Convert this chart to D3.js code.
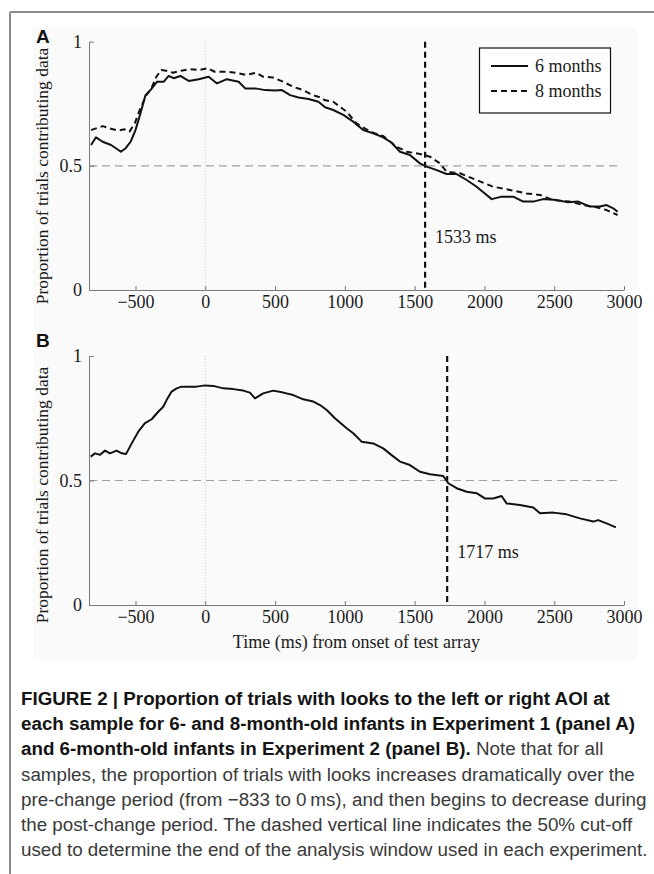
<!DOCTYPE html>
<html><head><meta charset="utf-8">
<script src="https://cdn.jsdelivr.net/npm/d3@7"></script>
<style>body{margin:0;background:#fff}svg{display:block}</style>
</head><body><svg id="c" width="654" height="874"></svg>
<script>
// ---------- DATA ----------
const timesA6 = [-818,-783,-735,-675,-640,-605,-570,-535,-500,-464,-428,-393,-345,-297,-262,-226,-178,-119,-47,24,84,155,239,286,358,430,501,549,608,668,740,811,859,917,989,1060,1132,1203,1275,1335,1395,1466,1538,1586,1658,1729,1801,1873,1944,2003,2052,2123,2206,2278,2350,2421,2517,2600,2672,2756,2827,2875,2923,2954];
const valuesA6 = [0.584,0.615,0.597,0.584,0.571,0.557,0.571,0.597,0.644,0.712,0.785,0.805,0.839,0.839,0.862,0.853,0.862,0.842,0.849,0.859,0.832,0.849,0.839,0.812,0.812,0.805,0.803,0.805,0.785,0.775,0.769,0.758,0.736,0.725,0.705,0.678,0.644,0.631,0.615,0.593,0.557,0.544,0.510,0.497,0.483,0.467,0.467,0.443,0.416,0.389,0.366,0.376,0.376,0.356,0.356,0.366,0.362,0.353,0.356,0.336,0.336,0.342,0.329,0.315];
const timesA8 = [-818,-783,-735,-685,-625,-578,-543,-505,-470,-422,-386,-350,-315,-279,-231,-172,-112,-41,19,67,150,222,293,365,413,484,556,628,700,771,822,855,917,1013,1084,1180,1275,1371,1443,1538,1610,1681,1729,1825,1944,2063,2183,2302,2398,2493,2613,2708,2804,2875,2954];
const valuesA8 = [0.644,0.651,0.660,0.651,0.642,0.647,0.638,0.671,0.725,0.785,0.812,0.859,0.886,0.883,0.875,0.883,0.889,0.886,0.893,0.879,0.879,0.875,0.866,0.875,0.859,0.856,0.839,0.819,0.805,0.785,0.776,0.765,0.758,0.718,0.671,0.638,0.620,0.577,0.557,0.548,0.537,0.510,0.476,0.470,0.443,0.416,0.403,0.389,0.383,0.362,0.356,0.342,0.333,0.322,0.302];
const timesB6 = [-821,-790,-754,-718,-683,-635,-599,-568,-527,-480,-432,-384,-337,-301,-277,-241,-205,-169,-110,-62,-2,57,129,200,272,320,356,415,487,559,630,702,774,822,870,929,1013,1060,1120,1203,1275,1335,1395,1466,1538,1610,1705,1741,1801,1873,1944,2003,2063,2123,2159,2254,2350,2398,2493,2589,2684,2780,2815,2875,2942];
const valuesB6 = [0.596,0.609,0.603,0.620,0.609,0.620,0.609,0.606,0.649,0.696,0.730,0.746,0.776,0.796,0.823,0.857,0.870,0.877,0.877,0.877,0.882,0.880,0.870,0.867,0.861,0.853,0.830,0.850,0.861,0.853,0.843,0.826,0.817,0.803,0.783,0.750,0.710,0.690,0.656,0.649,0.629,0.602,0.576,0.562,0.535,0.525,0.518,0.489,0.469,0.455,0.449,0.428,0.428,0.438,0.408,0.402,0.392,0.368,0.371,0.364,0.348,0.335,0.341,0.328,0.312];
const xTicks = [-500, 0, 500, 1000, 1500, 2000, 2500, 3000];
const yTicks = [0, 0.5, 1];
const yTickLabels = ["0", "0.5", "1"];
const cutoffTimes = [1575, 1733];          // position of dashed cut-off line as drawn
const cutoffLabels = ["1533 ms", "1717 ms"];
const legendLabels = ["6 months", "8 months"];
const panelLetters = ["A", "B"];
const yAxisTitle = "Proportion of trials contributing data";
const xAxisTitle = "Time (ms) from onset of test array";
const captionLines = [
  [["FIGURE 2 | Proportion of trials with looks to the left or right AOI at", true]],
  [["each sample for 6- and 8-month-old infants in Experiment 1 (panel A)", true]],
  [["and 6-month-old infants in Experiment 2 (panel B).", true], [" Note that for all", false]],
  [["samples, the proportion of trials with looks increases dramatically over the", false]],
  [["pre-change period (from \u2212833 to 0\u2009ms), and then begins to decrease during", false]],
  [["the post-change period. The dashed vertical line indicates the 50% cut-off", false]],
  [["used to determine the end of the analysis window used in each experiment.", false]]
];

// ---------- DRAW ----------
const svg = d3.select("#c");
const serif = "'Liberation Serif','Times New Roman',serif";
const sans = "'Liberation Sans',Arial,Helvetica,sans-serif";

// frame
svg.append("line").attr("x1",10).attr("x2",654).attr("y1",12).attr("y2",12).attr("stroke","#8c8c8c").attr("stroke-width",2);
svg.append("line").attr("x1",10).attr("x2",10).attr("y1",12).attr("y2",874).attr("stroke","#8c8c8c").attr("stroke-width",2);
// image background
svg.append("rect").attr("x",33).attr("y",28).attr("width",604).attr("height",632).attr("fill","#fafafa");

const x = d3.scaleLinear().domain([-833, 3000]).range([89, 624]);

const panels = [
  {top: 41.7, bottom: 290, series: [[timesA6, valuesA6, null], [timesA8, valuesA8, "6,4"]], letterY: 43, titleY: 176},
  {top: 356, bottom: 605, series: [[timesB6, valuesB6, null]], letterY: 347, titleY: 495}
];

panels.forEach((p, i) => {
  const y = d3.scaleLinear().domain([0, 1]).range([p.bottom, p.top]);
  const g = svg.append("g");

  // reference lines
  g.append("line").attr("x1", x(0)).attr("x2", x(0)).attr("y1", y(1)).attr("y2", y(0))
    .attr("stroke", "#c4c4c4").attr("stroke-width", 1).attr("stroke-dasharray", "1,2");
  g.append("line").attr("x1", x(-833)).attr("x2", x(2960)).attr("y1", y(0.5)).attr("y2", y(0.5))
    .attr("stroke", "#a0a0a0").attr("stroke-width", 1.2).attr("stroke-dasharray", "8,5");

  // axes
  const xa = g.append("g").attr("transform", `translate(0,${p.bottom})`)
    .call(d3.axisBottom(x).tickValues(xTicks).tickSizeInner(-4).tickSizeOuter(0).tickPadding(5)
      .tickFormat(d => d < 0 ? "\u2212" + Math.abs(d) : String(d)));
  const ya = g.append("g").attr("transform", `translate(89,0)`)
    .call(d3.axisLeft(y).tickValues(yTicks).tickSizeInner(-5).tickSizeOuter(0).tickPadding(7)
      .tickFormat((d, k) => yTickLabels[k]));
  [xa, ya].forEach(a => {
    a.selectAll("path.domain").attr("stroke", "#7a7a7a").attr("stroke-width", 1);
    a.selectAll(".tick line").attr("stroke", "#7a7a7a");
    a.selectAll("text").attr("font-family", serif).attr("font-size", 18).attr("fill", "#1a1a1a");
  });

  // series
  p.series.forEach(([ts, vs, dash]) => {
    const pts = ts.map((t, k) => [t, vs[k]]);
    g.append("path").datum(pts)
      .attr("d", d3.line().x(d => x(d[0])).y(d => y(d[1])))
      .attr("fill", "none").attr("stroke", "#111").attr("stroke-width", 2)
      .attr("stroke-linejoin", "round")
      .attr("stroke-dasharray", dash);
  });

  // cut-off line
  g.append("line").attr("x1", x(cutoffTimes[i])).attr("x2", x(cutoffTimes[i]))
    .attr("y1", y(1)).attr("y2", y(0))
    .attr("stroke", "#111").attr("stroke-width", 2.2).attr("stroke-dasharray", "6,4");
  g.append("text").attr("x", x(cutoffTimes[i]) + 10).attr("y", y(0.19))
    .attr("font-family", serif).attr("font-size", 18).attr("fill", "#1a1a1a").text(cutoffLabels[i]);

  // panel letter
  g.append("text").attr("x", 36).attr("y", p.letterY).attr("font-family", sans).attr("font-weight", "bold")
    .attr("font-size", 19).attr("fill", "#111").text(panelLetters[i]);

  // y-axis title
  g.append("text").attr("transform", `translate(48,${p.titleY}) rotate(-90)`).attr("text-anchor", "middle")
    .attr("font-family", serif).attr("font-size", 17.5).attr("fill", "#1a1a1a").text(yAxisTitle);
});

// legend
const lg = svg.append("g");
lg.append("rect").attr("x", 479.5).attr("y", 48).attr("width", 131).attr("height", 65)
  .attr("fill", "#fff").attr("stroke", "#111").attr("stroke-width", 1.2);
legendLabels.forEach((lab, k) => {
  const ly = 66 + k * 25;
  lg.append("line").attr("x1", 491).attr("x2", 528).attr("y1", ly).attr("y2", ly)
    .attr("stroke", "#111").attr("stroke-width", 2.2).attr("stroke-dasharray", k === 1 ? "6,4" : null);
  lg.append("text").attr("x", 535).attr("y", ly + 6).attr("font-family", serif).attr("font-size", 18)
    .attr("fill", "#1a1a1a").text(lab);
});

// x-axis title
svg.append("text").attr("x", x(1083)).attr("y", 648).attr("text-anchor", "middle")
  .attr("font-family", serif).attr("font-size", 18).attr("fill", "#1a1a1a").text(xAxisTitle);

// caption
captionLines.forEach((parts, k) => {
  const t = svg.append("text").attr("x", 21).attr("y", 705 + k * 25.2)
    .attr("font-family", sans).attr("font-size", 18.8);
  parts.forEach(([s, b]) => {
    t.append("tspan").attr("font-weight", b ? "bold" : "normal")
      .attr("fill", b ? "#141414" : "#3a3a3a").text(s);
  });
});
</script></body></html>
